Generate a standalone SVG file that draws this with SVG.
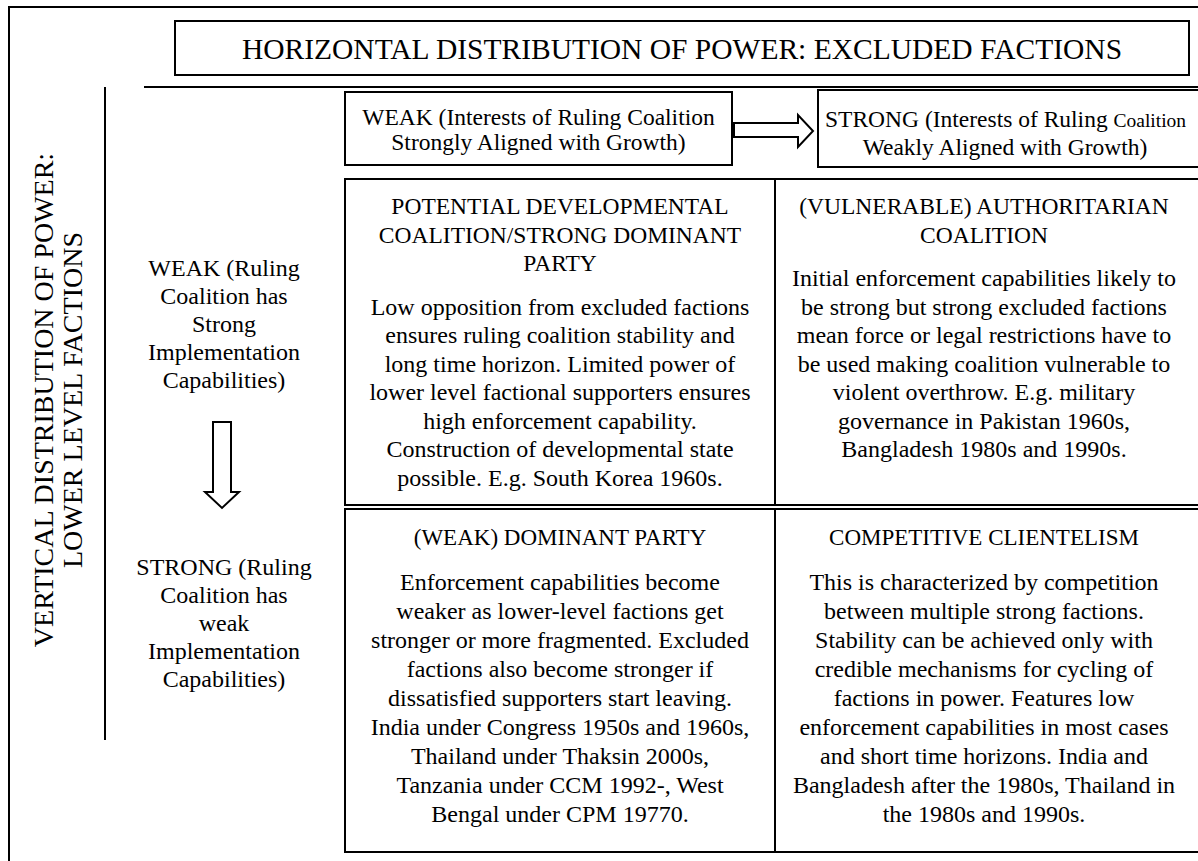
<svg xmlns="http://www.w3.org/2000/svg" width="1198" height="861" viewBox="0 0 1198 861">
<style>
.t{font-family:"Liberation Serif","Times New Roman",serif;fill:#000}
.c{text-anchor:middle}
.b{font-size:24px}
.h{font-size:23.5px}
.h2{font-size:23px}
.hd{font-size:23.5px}
.box{fill:none;stroke:#000;stroke-width:2}
.ln{stroke:#000;stroke-width:2;fill:none}
.arr{fill:#fff;stroke:#000;stroke-width:2;stroke-linejoin:miter}
</style>
<defs>
<clipPath id="clipWeak"><rect x="345" y="92" width="387" height="64"/></clipPath>
<clipPath id="clipStrong"><rect x="818" y="90" width="380" height="73"/></clipPath>
</defs>
<rect width="1198" height="861" fill="#fff"/>
<g id="frame">
<rect class="box" x="9" y="7" width="1200" height="870"/>
<line class="ln" x1="144" y1="87" x2="1198" y2="87"/>
<line class="ln" x1="105" y1="87" x2="105" y2="740"/>
</g>
<g id="title">
<rect class="box" x="175" y="21" width="1014" height="54"/>
<text class="t c" x="682" y="59" font-size="29.5">HORIZONTAL DISTRIBUTION OF POWER: EXCLUDED FACTIONS</text>
</g>
<g id="axis-vertical">
<text class="t c" font-size="28" transform="translate(53,400) rotate(-90)">VERTICAL DISTRIBUTION OF POWER:</text>
<text class="t c" font-size="28" transform="translate(82,400) rotate(-90)">LOWER LEVEL FACTIONS</text>
</g>
<g id="header-weak">
<rect class="box" x="345" y="92" width="387" height="73"/>
<g clip-path="url(#clipWeak)">
<text class="t c hd" x="538.5" y="125">WEAK (Interests of Ruling Coalition</text>
<text class="t c hd" x="538.5" y="150">Strongly Aligned with Growth)</text>
</g>
</g>
<g id="header-strong">
<rect class="box" x="818" y="90" width="390" height="77"/>
<g clip-path="url(#clipStrong)">
<text class="t hd" x="825" y="127">STRONG (Interests of Ruling <tspan font-size="19.5">Coalition</tspan></text>
<text class="t c hd" x="1005" y="155">Weakly Aligned with Growth)</text>
</g>
</g>
<g id="label-weak">
<text class="t c b" x="224" y="276">WEAK (Ruling</text>
<text class="t c b" x="224" y="304">Coalition has</text>
<text class="t c b" x="224" y="332">Strong</text>
<text class="t c b" x="224" y="360">Implementation</text>
<text class="t c b" x="224" y="388">Capabilities)</text>
</g>
<g id="label-strong">
<text class="t c b" x="224" y="575">STRONG (Ruling</text>
<text class="t c b" x="224" y="603">Coalition has</text>
<text class="t c b" x="224" y="631">weak</text>
<text class="t c b" x="224" y="659">Implementation</text>
<text class="t c b" x="224" y="687">Capabilities)</text>
</g>
<g id="cell-developmental">
<rect class="box" x="345" y="179" width="430" height="326"/>
<text class="t c h" x="560" y="214">POTENTIAL DEVELOPMENTAL</text>
<text class="t c h" x="560" y="242.5">COALITION/STRONG DOMINANT</text>
<text class="t c h" x="560" y="271">PARTY</text>
<text class="t c b" x="560" y="314.5">Low opposition from excluded factions</text>
<text class="t c b" x="560" y="343">ensures ruling coalition stability and</text>
<text class="t c b" x="560" y="371.5">long time horizon. Limited power of</text>
<text class="t c b" x="560" y="400">lower level factional supporters ensures</text>
<text class="t c b" x="560" y="428.5">high enforcement capability.</text>
<text class="t c b" x="560" y="457">Construction of developmental state</text>
<text class="t c b" x="560" y="485.5">possible. E.g. South Korea 1960s.</text>
</g>
<g id="cell-authoritarian">
<rect class="box" x="775" y="179" width="430" height="326"/>
<text class="t c h" x="984" y="214">(VULNERABLE) AUTHORITARIAN</text>
<text class="t c h" x="984" y="242.5">COALITION</text>
<text class="t c b" x="984" y="286">Initial enforcement capabilities likely to</text>
<text class="t c b" x="984" y="314.5">be strong but strong excluded factions</text>
<text class="t c b" x="984" y="343">mean force or legal restrictions have to</text>
<text class="t c b" x="984" y="371.5">be used making coalition vulnerable to</text>
<text class="t c b" x="984" y="400">violent overthrow. E.g. military</text>
<text class="t c b" x="984" y="428.5">governance in Pakistan 1960s,</text>
<text class="t c b" x="984" y="457">Bangladesh 1980s and 1990s.</text>
</g>
<g id="cell-weak-dominant">
<rect class="box" x="345" y="509" width="430" height="343"/>
<text class="t c h2" x="560" y="545">(WEAK) DOMINANT PARTY</text>
<text class="t c b" x="560" y="590">Enforcement capabilities become</text>
<text class="t c b" x="560" y="619">weaker as lower-level factions get</text>
<text class="t c b" x="560" y="648">stronger or more fragmented. Excluded</text>
<text class="t c b" x="560" y="677">factions also become stronger if</text>
<text class="t c b" x="560" y="706">dissatisfied supporters start leaving.</text>
<text class="t c b" x="560" y="735">India under Congress 1950s and 1960s,</text>
<text class="t c b" x="560" y="764">Thailand under Thaksin 2000s,</text>
<text class="t c b" x="560" y="793">Tanzania under CCM 1992-, West</text>
<text class="t c b" x="560" y="822">Bengal under CPM 19770.</text>
</g>
<g id="cell-competitive">
<rect class="box" x="775" y="509" width="430" height="343"/>
<text class="t c h2" x="984" y="545">COMPETITIVE CLIENTELISM</text>
<text class="t c b" x="984" y="590">This is characterized by competition</text>
<text class="t c b" x="984" y="619">between multiple strong factions.</text>
<text class="t c b" x="984" y="648">Stability can be achieved only with</text>
<text class="t c b" x="984" y="677">credible mechanisms for cycling of</text>
<text class="t c b" x="984" y="706">factions in power. Features low</text>
<text class="t c b" x="984" y="735">enforcement capabilities in most cases</text>
<text class="t c b" x="984" y="764">and short time horizons. India and</text>
<text class="t c b" x="984" y="793">Bangladesh after the 1980s, Thailand in</text>
<text class="t c b" x="984" y="822">the 1980s and 1990s.</text>
</g>
<g id="connectors">
<polygon class="arr" points="734,123 798,123 798,115 813,131 798,147 798,137 734,137"/>
<polygon class="arr" points="213,422 231,422 231,492 239,492 222,508 205,492 213,492"/>
</g>
</svg>
